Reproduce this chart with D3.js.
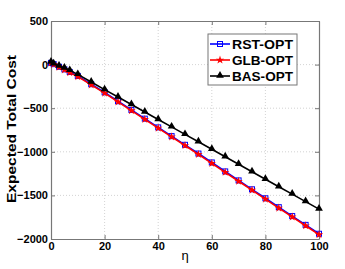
<!DOCTYPE html>
<html>
<head>
<meta charset="utf-8">
<script src="https://cdn.jsdelivr.net/npm/d3@7"></script>
<style>
  body { margin: 0; background: #fff; }
  svg { display: block; font-family: Arial, "Liberation Sans", sans-serif; }
</style>
</head>
<body>
<svg id="chart" width="345" height="269"></svg>
<script>
const etaValues = [0, 1, 3, 5, 7, 10, 15, 20, 25, 30, 35, 40, 45, 50, 55, 60, 65, 70, 75, 80, 85, 90, 95, 100];
const rstValues = [20, 5, -25, -55, -85, -130, -225, -318, -420, -520, -620, -720, -820, -920, -1020, -1122, -1225, -1328, -1430, -1533, -1635, -1737, -1838, -1940];
const glbValues = [18, 2, -30, -60, -92, -138, -233, -327, -428, -528, -628, -728, -828, -928, -1030, -1132, -1235, -1338, -1440, -1543, -1645, -1747, -1848, -1950];
const basValues = [29, 10, -17, -40, -66, -112, -200, -287, -372, -458, -543, -629, -714, -800, -885, -971, -1057, -1142, -1228, -1314, -1400, -1485, -1571, -1657];
const xTicks = [0, 20, 40, 60, 80, 100];
const yTicks = [500, 0, -500, -1000, -1500, -2000];
const seriesNames = ['RST-OPT', 'GLB-OPT', 'BAS-OPT'];

const svg = d3.select('#chart');
const margin = {top: 21, right: 26, bottom: 30, left: 51};
const innerWidth = 345 - margin.left - margin.right;
const innerHeight = 269 - margin.top - margin.bottom;

const xScale = d3.scaleLinear().domain([0, 100]).range([0, innerWidth]);
const yScale = d3.scaleLinear().domain([-2000, 500]).range([innerHeight, 0]);

const g = svg.append('g').attr('transform', `translate(${margin.left},${margin.top})`);

// grid
g.selectAll('.gx').data(xTicks.slice(1, -1)).enter().append('line')
  .attr('x1', d => xScale(d)).attr('x2', d => xScale(d))
  .attr('y1', 0).attr('y2', innerHeight)
  .attr('stroke', '#c8c8c8').attr('stroke-width', 0.8).attr('stroke-dasharray', '1,2');
g.selectAll('.gy').data(yTicks.slice(1, -1)).enter().append('line')
  .attr('x1', 0).attr('x2', innerWidth)
  .attr('y1', d => yScale(d)).attr('y2', d => yScale(d))
  .attr('stroke', '#c8c8c8').attr('stroke-width', 0.8).attr('stroke-dasharray', '1,2');

// axes
const fmt = d => d < 0 ? '\u2212' + Math.abs(d) : String(d);
const xAxis = d3.axisBottom(xScale).tickValues(xTicks).tickSizeInner(-4).tickSizeOuter(0).tickPadding(3).tickFormat(fmt);
const yAxis = d3.axisLeft(yScale).tickValues(yTicks).tickSizeInner(-4).tickSizeOuter(0).tickPadding(3).tickFormat(fmt);
const xTop = d3.axisTop(xScale).tickValues(xTicks).tickSizeInner(-4).tickSizeOuter(0).tickFormat('');
const yRight = d3.axisRight(yScale).tickValues(yTicks).tickSizeInner(-4).tickSizeOuter(0).tickFormat('');

const axisGroups = [
  g.append('g').attr('transform', `translate(0,${innerHeight})`).call(xAxis),
  g.append('g').call(yAxis),
  g.append('g').call(xTop),
  g.append('g').attr('transform', `translate(${innerWidth},0)`).call(yRight)
];
axisGroups.forEach(ag => {
  ag.select('.domain').attr('stroke', '#777').attr('stroke-width', 1.2);
  ag.selectAll('.tick line').attr('stroke', '#777');
  ag.selectAll('.tick text').attr('fill', '#000').attr('font-size', 11).attr('font-weight', 'bold')
    .attr('font-family', 'Arial, "Liberation Sans", sans-serif');
});

// series
const series = [
  {name: seriesNames[0], values: rstValues, color: '#0000ff', marker: 'square'},
  {name: seriesNames[1], values: glbValues, color: '#ff0000', marker: 'star'},
  {name: seriesNames[2], values: basValues, color: '#000000', marker: 'triangle'}
];

const line = d3.line().x(d => xScale(d[0])).y(d => yScale(d[1]));

const drawMarker = (sel, s, x, y) => {
  if (s.marker === 'square') {
    sel.append('rect').attr('x', x - 2.5).attr('y', y - 2.5).attr('width', 5).attr('height', 5)
      .attr('fill', 'none').attr('stroke', s.color).attr('stroke-width', 1);
  } else if (s.marker === 'star') {
    sel.append('path').attr('transform', `translate(${x},${y})`)
      .attr('d', d3.symbol(d3.symbolStar, 22)()).attr('fill', s.color);
  } else {
    sel.append('path').attr('transform', `translate(${x},${y - 0.5})`)
      .attr('d', d3.symbol(d3.symbolTriangle, 26)()).attr('fill', s.color);
  }
};

series.forEach(s => {
  const pts = etaValues.map((e, i) => [e, s.values[i]]);
  g.append('path').datum(pts).attr('d', line)
    .attr('fill', 'none').attr('stroke', s.color).attr('stroke-width', 1.6);
  const mg = g.append('g');
  pts.forEach(p => drawMarker(mg, s, xScale(p[0]), yScale(p[1])));
});

// labels
svg.append('text').attr('x', 185).attr('y', 260).attr('text-anchor', 'middle')
  .attr('font-size', 13).text('\u03b7');
svg.append('text').attr('transform', 'translate(16,129) rotate(-90)')
  .attr('text-anchor', 'middle').attr('font-size', 13).attr('font-weight', 'bold')
  .attr('textLength', 148).attr('lengthAdjust', 'spacingAndGlyphs')
  .text('Expected Total Cost');

// legend
const legend = svg.append('g').attr('transform', 'translate(208,34)');
legend.append('rect').attr('width', 89).attr('height', 51)
  .attr('fill', '#fff').attr('stroke', '#777').attr('stroke-width', 1);
series.forEach((s, i) => {
  const y = 10 + i * 16;
  legend.append('line').attr('x1', 2).attr('x2', 22).attr('y1', y).attr('y2', y)
    .attr('stroke', s.color).attr('stroke-width', 1.6);
  drawMarker(legend, s, 12, y);
  legend.append('text').attr('x', 24).attr('y', y + 4.5).attr('font-size', 12.5)
    .attr('font-weight', 'bold').attr('textLength', 61).attr('lengthAdjust', 'spacingAndGlyphs')
    .text(s.name);
});
</script>
</body>
</html>
